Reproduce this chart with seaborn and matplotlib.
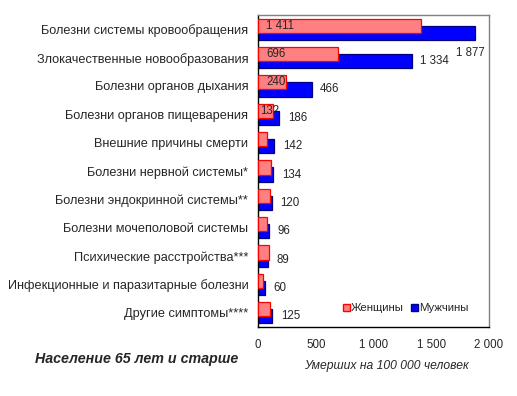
import numpy as np
import pandas as pd
import seaborn as sns
import matplotlib
matplotlib.use("Agg")
from matplotlib import pyplot as plt
from matplotlib.patches import Patch

sns.set_style("white")
plt.rcParams["font.family"] = ["Liberation Sans", "DejaVu Sans"]

# data
causes = [
    "Болезни системы кровообращения",
    "Злокачественные новообразования",
    "Болезни органов дыхания",
    "Болезни органов пищеварения",
    "Внешние причины смерти",
    "Болезни нервной системы*",
    "Болезни эндокринной системы**",
    "Болезни мочеполовой системы",
    "Психические расстройства***",
    "Инфекционные и паразитарные болезни",
    "Другие симптомы****",
]
women = [1411, 696, 240, 132, 80, 115, 107, 75, 98, 46, 107]
men = [1877, 1334, 466, 186, 142, 134, 120, 96, 89, 60, 125]
women_labeled = [True, True, True, True] + [False] * 7
x_ticks = [0, 500, 1000, 1500, 2000]
x_ticklabels = ["0", "500", "1 000", "1 500", "2 000"]

PINK, RED = "#FF8080", "#FF0000"
BLUE, NAVY = "#0000FF", "#000080"

fig = plt.figure(figsize=(5.17, 3.96), dpi=100)
ax = fig.add_axes([258 / 517, 1 - 327 / 396, 231 / 517, 312 / 396])

df_m = pd.DataFrame({"cause": causes, "value": men})
df_w = pd.DataFrame({"cause": causes, "value": women})

sns.barplot(data=df_m, x="value", y="cause", orient="h", width=0.5,
            color=BLUE, edgecolor=NAVY, linewidth=0.9, saturation=1, ax=ax)
n_m = len(ax.patches)
sns.barplot(data=df_w, x="value", y="cause", orient="h", width=0.5,
            color=PINK, edgecolor=RED, linewidth=0.9, saturation=1, ax=ax)

# overlap: women shifted up, men shifted down
for k, p in enumerate(ax.patches):
    p.set_y(p.get_y() + (0.125 if k < n_m else -0.125))
    p.set_zorder(2 if k < n_m else 3)

# value labels
for i, v in enumerate(men):
    if i == 0:
        ax.annotate("1 877", xy=(v, i + 0.84), xytext=(-3, 0), textcoords="offset points",
                    ha="center", va="center", fontsize=8.3)
    else:
        lab = f"{v:,}".replace(",", " ")
        ax.annotate(lab, xy=(v, i + 0.125), xytext=(6, 0), textcoords="offset points",
                    ha="left", va="center", fontsize=8.3)
for i, v in enumerate(women):
    if women_labeled[i]:
        lab = f"{v:,}".replace(",", " ")
        pad = 6 if v > 200 else 1.5
        ax.annotate(lab, xy=(0, i - 0.125), xytext=(pad, 0), textcoords="offset points",
                    ha="left", va="center", fontsize=8.3, zorder=5)

ax.set_xlim(0, 2000)
ax.set_ylim(len(causes) - 0.5, -0.5)
ax.set_xticks(x_ticks)
ax.set_xticklabels(x_ticklabels)
ax.set_xlabel("")
ax.set_ylabel("")
ax.tick_params(axis="both", length=0)
ax.tick_params(axis="x", labelsize=8.3, pad=9)
ax.tick_params(axis="y", labelsize=9.2, pad=7)

for s in ["top", "right"]:
    ax.spines[s].set_color("#808080")
for s in ["left", "bottom"]:
    ax.spines[s].set_color("black")
for s in ax.spines.values():
    s.set_linewidth(1)

handles = [Patch(facecolor=PINK, edgecolor=RED, label="Женщины"),
           Patch(facecolor=BLUE, edgecolor=NAVY, label="Мужчины")]
ax.legend(handles=handles, loc="center right", bbox_to_anchor=(0.935, 0.06),
          frameon=False, fontsize=8.2, handlelength=0.6, handleheight=0.6,
          handletextpad=0.1, columnspacing=0.6, ncol=2, borderpad=0)

fig.text(386 / 517, 1 - 366 / 396, "Умерших на 100 000 человек", ha="center", va="center",
         fontsize=8.7, style="italic")
fig.text(137 / 517, 1 - 359 / 396, "Население 65 лет и старше", ha="center", va="center",
         fontsize=10.3, style="italic", weight="bold")

fig.savefig("out.png", dpi=100)
